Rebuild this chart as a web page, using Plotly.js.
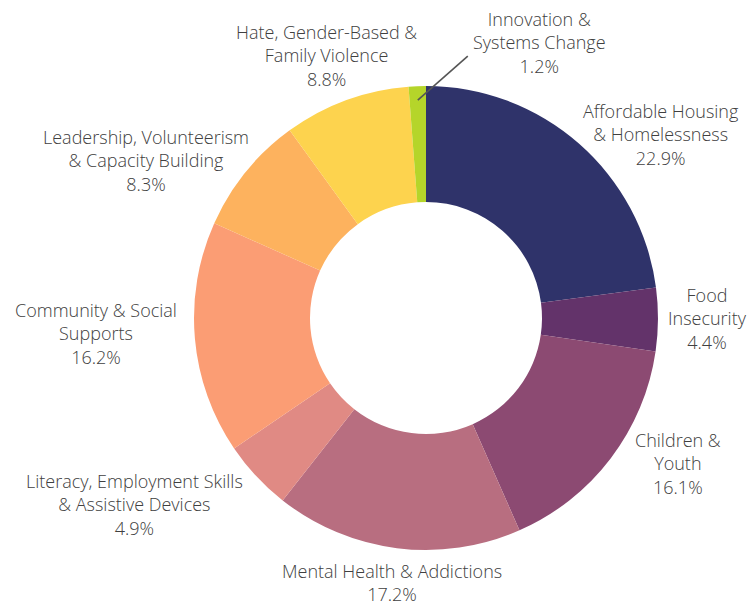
<!DOCTYPE html>
<html>
<head>
<meta charset="utf-8">
<script src="https://cdn.plot.ly/plotly-3.0.1.min.js"></script>
<style>html,body{margin:0;padding:0;background:#fff;}#chart{width:754px;height:605px;}</style>
</head>
<body>
<div id="chart"></div>
<script>
const categories = [
  "Affordable Housing<br>& Homelessness",
  "Food<br>Insecurity",
  "Children &<br>Youth",
  "Mental Health & Addictions",
  "Literacy, Employment Skills<br>& Assistive Devices",
  "Community & Social<br>Supports",
  "Leadership, Volunteerism<br>& Capacity Building",
  "Hate, Gender-Based &<br>Family Violence",
  "Innovation &<br>Systems Change"
];
const shares = [22.9, 4.4, 16.1, 17.2, 4.9, 16.2, 8.3, 8.8, 1.2];
const colors = ["#2f336a", "#63336a", "#8c4a72", "#b86e80", "#e08a84", "#fb9d74", "#fdb25e", "#fdd34e", "#b5d52a"];

// ---- layout / styling (not data) ----
const W = 754, H = 605;
const M = {l: 194, r: 96, t: 86, b: 55};
const side = W - M.l - M.r; // 464 (square plot area)
const font = {family: "Open Sans", size: 18, color: "#404040", weight: 300};
// small pixel nudges of the label boxes (xshift, yshift)
const labelNudge = [[-3, 3], [0, 1], [16, 0], [-4, -1], [-5, -23], [-8, 6], [11, 6], [-17, 0], [0, 1]];

const total = shares.reduce((a, b) => a + b, 0);
let cum = 0;
const annotations = [];
const shapes = [];
shares.forEach((v, i) => {
  const mid = (cum + v / 2) / total * 2 * Math.PI; // clockwise from 12 o'clock
  cum += v;
  const s = Math.sin(mid), c = Math.cos(mid);
  const txt = categories[i] + "<br>" + v.toFixed(1) + "%";
  const [nx, ny] = labelNudge[i];
  if (i === shares.length - 1) {
    // tiny slice: leader line + label placed up and to the right
    const f = 0.94;
    const tx = 0.5 + 0.5 * f * s, ty = 0.5 + 0.5 * f * c;
    shapes.push({type: "line", xref: "paper", yref: "paper",
      x0: tx, y0: ty, x1: tx + 50 / side, y1: ty + 44 / side,
      line: {color: "#555555", width: 1.6}});
    annotations.push({xref: "paper", yref: "paper",
      x: tx + 122 / side, y: ty + 57 / side, xanchor: "center", yanchor: "middle",
      xshift: nx, yshift: ny,
      text: txt, showarrow: false, font: font, align: "center"});
    return;
  }
  const f = 1.035;
  const x = 0.5 + 0.5 * f * s, y = 0.5 + 0.5 * f * c;
  const xanchor = Math.abs(s) < 0.4 ? "center" : (s > 0 ? "left" : "right");
  const yanchor = Math.abs(c) < 0.8 ? "middle" : (c > 0 ? "bottom" : "top");
  annotations.push({xref: "paper", yref: "paper", x: x, y: y,
    xanchor: xanchor, yanchor: yanchor, xshift: nx, yshift: ny,
    text: txt, showarrow: false, font: font, align: "center"});
});

Plotly.newPlot("chart", [{
  type: "pie",
  labels: categories,
  values: shares,
  hole: 0.5,
  sort: false,
  direction: "clockwise",
  rotation: 0,
  marker: {colors: colors, line: {width: 0}},
  textinfo: "none",
  showlegend: false,
  hoverinfo: "none"
}], {
  width: W, height: H,
  margin: M,
  paper_bgcolor: "#ffffff",
  showlegend: false,
  annotations: annotations,
  shapes: shapes
}, {displayModeBar: false, staticPlot: true});
</script>
</body>
</html>
